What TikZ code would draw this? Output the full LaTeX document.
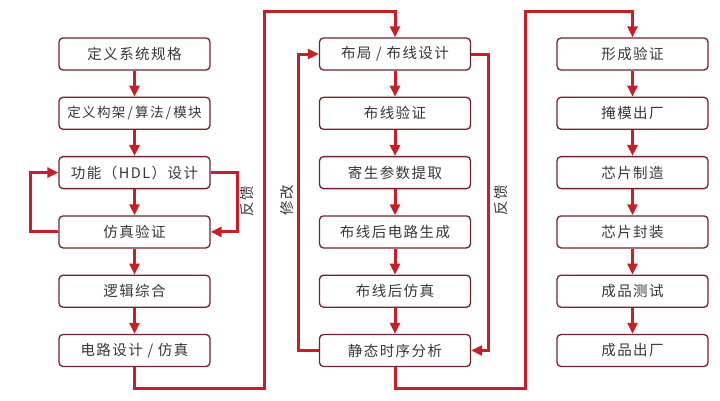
\documentclass[tikz,border=0pt]{standalone}
\usepackage{fontspec}
\newfontfamily\cjk[LetterSpace=10]{Noto Sans CJK SC}
\usepackage{xcolor}
\definecolor{flowred}{RGB}{200,30,40}
\definecolor{boxred}{RGB}{115,35,45}
\definecolor{textgray}{RGB}{55,55,55}
\usepackage{tikz}
\usetikzlibrary{arrows.meta, positioning}
\tikzset{
  stage/.style={
    rectangle, rounded corners=4pt, draw=boxred, fill=white, line width=1.3pt,
    minimum width=151pt, minimum height=32pt,
    text centered, text=textgray, font=\cjk\fontsize{14.5}{16}\selectfont
  },
  arrow/.style={line width=3pt, color=flowred, -{Triangle[length=11pt,width=10pt]}},
  note/.style={rotate=90, text=textgray, font=\cjk\fontsize{14.5}{16}\selectfont},
}
\begin{document}
\begin{tikzpicture}[x=1pt, y=-1pt, node distance=26pt]
  \useasboundingbox (0,0) rectangle (720,400);

  % front end
  \node (a1) [stage] at (134.5,54) {定义系统规格};
  \node (a2) [stage, below=of a1] {\fontsize{13.5}{15}\selectfont 定义构架\,/\,算法\,/\,模块};
  \node (a3) [stage, below=of a2] {功能（HDL）设计};
  \node (a4) [stage, below=of a3] {仿真验证};
  \node (a5) [stage, below=of a4] {逻辑综合};
  \node (a6) [stage, below=of a5] {电路设计 / 仿真};

  % back end
  \node (b1) [stage] at (395,54) {布局 / 布线设计};
  \node (b2) [stage, below=of b1] {布线验证};
  \node (b3) [stage, below=of b2] {寄生参数提取};
  \node (b4) [stage, below=of b3] {布线后电路生成};
  \node (b5) [stage, below=of b4] {布线后仿真};
  \node (b6) [stage, below=of b5] {静态时序分析};

  % manufacturing
  \node (c1) [stage] at (632.5,54) {形成验证};
  \node (c2) [stage, below=of c1] {掩模出厂};
  \node (c3) [stage, below=of c2] {芯片制造};
  \node (c4) [stage, below=of c3] {芯片封装};
  \node (c5) [stage, below=of c4] {成品测试};
  \node (c6) [stage, below=of c5] {成品出厂};

  \foreach \col in {a,b,c}{
    \foreach \i/\j in {1/2,2/3,3/4,4/5,5/6}
      \draw [arrow] (\col\i) -- (\col\j);
  }

  % feedback loops
  \draw [arrow] (a4.west) -- ++(-28,0) |- (a3.west);
  \draw [arrow] (a3.east) -- ++(27,0) |- (a4.east);
  \node (fb1) [note] at (247.5,201) {反馈};

  \draw [arrow] (b6.west) -- ++(-20,0) |- (b1.west);
  \draw [arrow] (b1.east) -- ++(17,0) |- (b6.east);
  \node (mod) [note] at (287,200) {修改};
  \node (fb2) [note] at (501,200) {反馈};

  % links between columns
  \coordinate (j1) at (264.5,388.5);
  \coordinate (j2) at (264.5,11.5);
  \coordinate (j3) at (525,388.5);
  \coordinate (j4) at (525,11.5);
  \draw [arrow] (a6.south) |- (j1) -- (j2) -| (b1.north);
  \draw [arrow] (b6.south) |- (j3) -- (j4) -| (c1.north);
\end{tikzpicture}
\end{document}
